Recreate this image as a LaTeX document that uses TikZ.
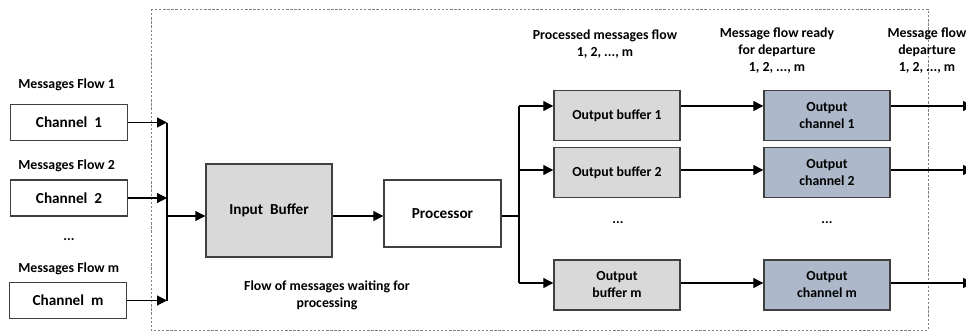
\documentclass[tikz,border=0pt]{standalone}
\usepackage{fontspec}
\setmainfont{Carlito}
\usetikzlibrary{arrows.meta,positioning}
\definecolor{bufgray}{HTML}{D9D9D9}
\definecolor{chanblue}{HTML}{ADB9CA}
\begin{document}
\begin{tikzpicture}[x=0.03cm, y=-0.03cm, >={Triangle[length=3mm,width=3mm]}]
        \tikzstyle{every node}=[inner sep=1pt, align=center, font=\bfseries\fontsize{11.8}{14.5}\selectfont]
        \tikzstyle{box}=[rectangle, draw=black!75, line width=1.2pt]
        \tikzstyle{chan}=[box, minimum width=3.51cm, minimum height=1.08cm, font=\bfseries\fontsize{13}{15}\selectfont]
        \tikzstyle{inbuf}=[box, fill=bufgray, minimum width=3.78cm, minimum height=2.79cm, font=\bfseries\fontsize{13}{15}\selectfont]
        \tikzstyle{outbuf}=[box, fill=bufgray, minimum width=3.78cm, minimum height=1.5cm]
        \tikzstyle{outchan}=[box, fill=chanblue, minimum width=3.78cm, minimum height=1.5cm]
        \tikzstyle{flow}=[line width=1pt]
        \clip (0,0) rectangle (966,331);
        \draw[gray, line width=0.6pt, dash pattern=on 2pt off 1.5pt] (151,9) rectangle (928,330);
        % input side
        \node [anchor=west] (lab1) at (17,85) {Messages Flow 1};
        \node [chan] (ch1) at (69,122.5) {Channel~~1};
        \node [anchor=west] (lab2) at (17,166) {Messages Flow 2};
        \node [chan] (ch2) at (69,198) {Channel~~2};
        \node (dotsin) at (69,240) {...};
        \node [anchor=west] (labm) at (17,269) {Messages Flow m};
        \node [chan] (chm) at (68,300.5) {Channel~~m};
        \node [inbuf] (ib) at (269,210.5) {Input~~Buffer};
        \node [chan, minimum height=2.01cm] (proc) at (442.5,213.5) {Processor};
        \node (wait) at (327,295) {Flow of messages waiting for\\processing};
        % output side
        \node [outbuf] (ob1) at (617,115.5) {Output buffer 1};
        \node [outbuf] (ob2) at (617,172.5) {Output buffer 2};
        \node (dotsob) at (618,223) {...};
        \node [outbuf] (obm) at (617,285) {Output\\buffer m};
        \node [outchan] (oc1) at (827,115.5) {Output\\channel 1};
        \node [outchan] (oc2) at (827,172.5) {Output\\channel 2};
        \node (dotsoc) at (827,223) {...};
        \node [outchan] (ocm) at (827,285) {Output\\channel m};
        \node (labproc) at (605,44) {Processed messages flow\\1, 2, ..., m};
        \node (labready) at (777,50.5) {Message flow ready\\for departure\\1, 2, ..., m};
        \node (labdep) at (927,50.5) {Message flow\\departure\\1, 2, ..., m};
        % connectors
        \coordinate (busin) at (167,216);
        \coordinate (busout) at (519,216);
        \coordinate (r1) at (519,106);
        \coordinate (r2) at (519,170);
        \coordinate (rm) at (519,283);
        \coordinate (out1) at (973,106);
        \coordinate (out2) at (973,170);
        \coordinate (outm) at (973,283);
        \draw [flow, ->] (ch1) -- (ch1 -| busin);
        \draw [flow, ->] (ch2) -- (ch2 -| busin);
        \draw [flow, ->] (chm) -- (chm -| busin);
        \draw [flow] (ch1 -| busin) -- (chm -| busin);
        \draw [flow, ->] (busin) -- (busin -| ib.west);
        \draw [flow, ->] (busin -| ib.east) -- (busin -| proc.west);
        \draw [flow] (busin -| proc.east) -- (busout);
        \draw [flow] (r1) -- (rm);
        \draw [flow, ->] (r1) -- (r1 -| ob1.west);
        \draw [flow, ->] (r2) -- (r2 -| ob2.west);
        \draw [flow, ->] (rm) -- (rm -| obm.west);
        \draw [flow, ->] (r1 -| ob1.east) -- (r1 -| oc1.west);
        \draw [flow, ->] (r2 -| ob2.east) -- (r2 -| oc2.west);
        \draw [flow, ->] (rm -| obm.east) -- (rm -| ocm.west);
        \draw [flow, ->] (r1 -| oc1.east) -- (out1);
        \draw [flow, ->] (r2 -| oc2.east) -- (out2);
        \draw [flow, ->] (rm -| ocm.east) -- (outm);
    \end{tikzpicture}
\end{document}
